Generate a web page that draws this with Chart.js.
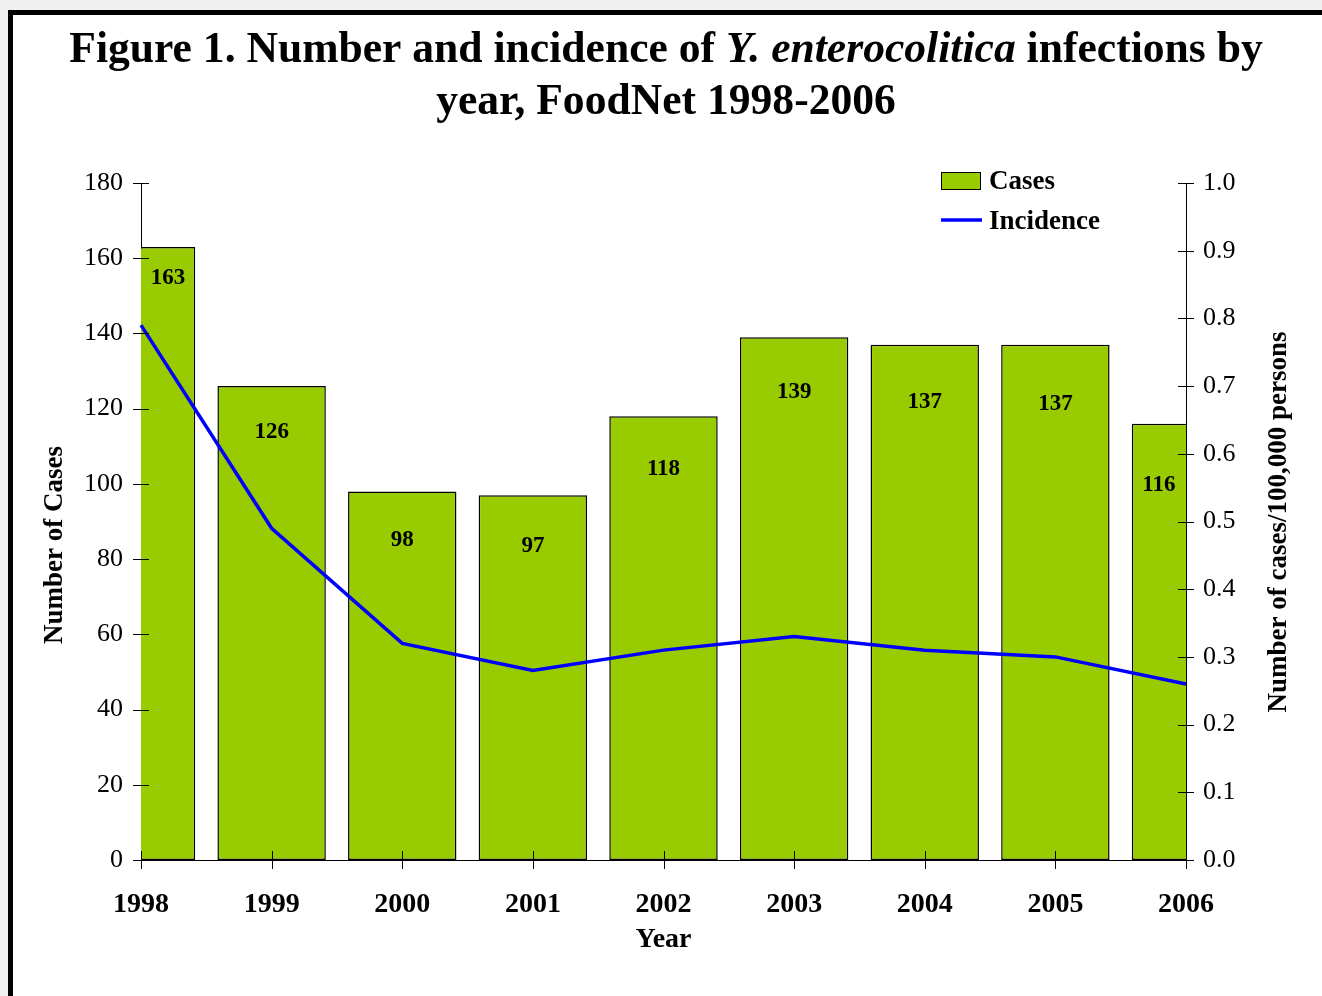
<!DOCTYPE html>
<html>
<head>
<meta charset="utf-8">
<style>
  html, body { margin: 0; padding: 0; background: #f0f0f0; overflow: hidden; }
  #frame { position: absolute; left: 8px; top: 10px; width: 1400px; height: 1100px; background: #fff;
           border-left: 5px solid #000; border-top: 5px solid #000; }
  #wrap { position: absolute; left: 0; top: 0; width: 1322px; height: 996px; }
</style>
</head>
<body>
<div id="frame"></div>
<div id="wrap"><canvas id="myChart"></canvas></div>

<script src="https://cdn.jsdelivr.net/npm/chart.js"></script>
<script>
// values
var years = ["1998", "1999", "2000", "2001", "2002", "2003", "2004", "2005", "2006"];
var cases = [163, 126, 98, 97, 118, 139, 137, 137, 116];
var incidence = [0.79, 0.49, 0.32, 0.28, 0.31, 0.33, 0.31, 0.30, 0.26];
var titleLine1 = [["Figure 1. Number and incidence of ", "bold"], ["Y. enterocolitica", "italic bold"], [" infections by", "bold"]];
var titleLine2 = "year, FoodNet 1998-2006";
var leftTitle = "Number of Cases";
var rightTitle = "Number of cases/100,000 persons";

var serif = '"Liberation Serif", "Times New Roman", serif';
Chart.defaults.font.family = serif;
Chart.defaults.color = "#000";

// title, legend, y-axis titles, bar labels and crossing tick marks
var decorations = {
    id: "decorations",
    afterDraw: function (chart) {
        var ctx = chart.ctx;
        var area = chart.chartArea;
        ctx.save();
        ctx.fillStyle = "#000";
        ctx.textBaseline = "alphabetic";

        // title line 1 with italic species name
        var total = 0;
        titleLine1.forEach(function (p) {
            ctx.font = p[1] + " 43.6px " + serif;
            total += ctx.measureText(p[0]).width;
        });
        var x = 666 - total / 2;
        titleLine1.forEach(function (p) {
            ctx.font = p[1] + " 43.6px " + serif;
            ctx.textAlign = "left";
            ctx.fillText(p[0], x, 62);
            x += ctx.measureText(p[0]).width;
        });
        ctx.font = "bold 43.6px " + serif;
        ctx.textAlign = "center";
        ctx.fillText(titleLine2, 666, 114);

        // y axis titles, both read bottom to top
        ctx.font = "bold 27px " + serif;
        ctx.textBaseline = "middle";
        ctx.save();
        ctx.translate(55, 545);
        ctx.rotate(-Math.PI / 2);
        ctx.fillText(leftTitle, 0, 0);
        ctx.restore();
        ctx.save();
        ctx.translate(1279, 522);
        ctx.rotate(-Math.PI / 2);
        ctx.fillText(rightTitle, 0, 0);
        ctx.restore();

        // bar value labels, centred on the visible part of each bar
        var meta = chart.getDatasetMeta(0);
        ctx.font = "bold 23px " + serif;
        meta.data.forEach(function (bar, i) {
            var l = Math.max(bar.x - bar.width / 2, area.left);
            var r = Math.min(bar.x + bar.width / 2, area.right);
            var off = i === 0 ? 31 : 44 + 2.2 * i;
            ctx.fillText(String(cases[i]), (l + r) / 2, bar.y + off);
        });

        // legend
        ctx.fillStyle = "#99CC00";
        ctx.fillRect(941, 172, 40, 18);
        ctx.strokeStyle = "#000";
        ctx.lineWidth = 1;
        ctx.strokeRect(941.5, 172.5, 39, 17);
        ctx.strokeStyle = "#0000FF";
        ctx.lineWidth = 3.5;
        ctx.beginPath();
        ctx.moveTo(941, 220);
        ctx.lineTo(982, 220);
        ctx.stroke();
        ctx.fillStyle = "#000";
        ctx.textAlign = "left";
        ctx.font = "bold 27px " + serif;
        ctx.fillText("Cases", 989, 182);
        ctx.fillText("Incidence", 989, 222);

        // tick marks crossing the axis lines
        ctx.strokeStyle = "#000";
        ctx.lineWidth = 1;
        ctx.beginPath();
        var ys = chart.scales.y, y1 = chart.scales.y1, xs = chart.scales.x;
        ys.ticks.forEach(function (t, i) {
            var p = Math.round(ys.getPixelForTick(i)) + 0.5;
            ctx.moveTo(area.left - 8, p); ctx.lineTo(area.left + 8, p);
        });
        y1.ticks.forEach(function (t, i) {
            var p = Math.round(y1.getPixelForTick(i)) + 0.5;
            ctx.moveTo(area.right - 8, p); ctx.lineTo(area.right + 8, p);
        });
        xs.ticks.forEach(function (t, i) {
            var p = Math.round(xs.getPixelForTick(i)) + 0.5;
            ctx.moveTo(p, area.bottom - 9); ctx.lineTo(p, area.bottom + 9);
        });
        ctx.stroke();
        ctx.restore();
    }
};

var ctx = document.getElementById("myChart").getContext("2d");
var myChart = new Chart(ctx, {
    type: "bar",
    data: {
        labels: years,
        datasets: [
            {
                type: "bar",
                label: "Cases",
                data: cases,
                backgroundColor: "#99CC00",
                borderColor: "#000",
                borderWidth: 1.5,
                borderSkipped: false,
                categoryPercentage: 1.0,
                barPercentage: 0.83,
                yAxisID: "y",
                clip: 0,
                order: 2
            },
            {
                type: "line",
                label: "Incidence",
                data: incidence,
                borderColor: "#0000FF",
                backgroundColor: "#0000FF",
                borderWidth: 3.5,
                pointRadius: 0,
                tension: 0,
                fill: false,
                yAxisID: "y1",
                order: 1
            }
        ]
    },
    options: {
        responsive: true,
        maintainAspectRatio: false,
        animation: false,
        layout: { padding: { top: 183, left: 0, right: 0, bottom: 0 } },
        plugins: {
            legend: { display: false },
            tooltip: { enabled: false },
            title: { display: false }
        },
        scales: {
            x: {
                offset: false,
                z: 1,
                grid: { display: false },
                border: { display: true, color: "#000", width: 1 },
                ticks: { padding: 20, font: { size: 28, weight: "bold" }, maxRotation: 0 },
                title: { display: true, text: "Year", font: { size: 28, weight: "bold" }, padding: { top: 0, bottom: 39 } },
                afterFit: function (s) { s.height = 136; }
            },
            y: {
                position: "left",
                min: 0,
                max: 180,
                z: 1,
                grid: { display: false },
                border: { display: true, color: "#000", width: 1 },
                ticks: { stepSize: 20, padding: 10, font: { size: 26 } },
                afterFit: function (s) { s.width = 141; }
            },
            y1: {
                position: "right",
                min: 0,
                max: 1,
                z: 1,
                grid: { display: false },
                border: { display: true, color: "#000", width: 1 },
                ticks: {
                    stepSize: 0.1,
                    padding: 9,
                    font: { size: 26 },
                    callback: function (v) { return Number(v).toFixed(1); }
                },
                afterFit: function (s) { s.width = 136; }
            }
        }
    },
    plugins: [decorations]
});
</script>
</body>
</html>
